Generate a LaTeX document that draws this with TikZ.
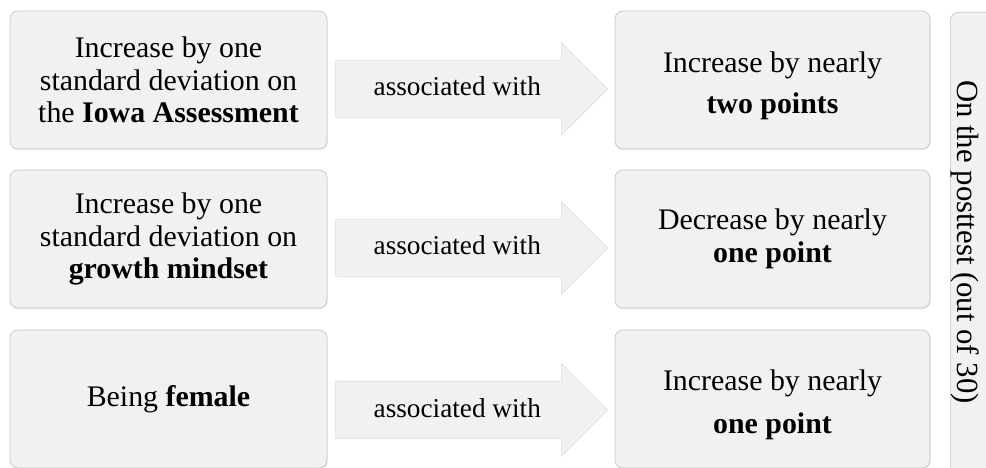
\documentclass[tikz,border=0pt]{standalone}
\usepackage{fontspec}
\setmainfont{Liberation Serif}
\usetikzlibrary{shapes.arrows, positioning, shadows}

\tikzset{
  factor/.style={draw=gray!45, fill=gray!11, rounded corners=0.16cm,
    minimum width=6.34cm, minimum height=2.76cm, align=center,
    font=\fontsize{17}{18.5}\selectfont,
    drop shadow={fill=gray!35, shadow xshift=0.4pt, shadow yshift=-0.6pt}},
  effect/.style={factor, minimum width=6.3cm},
  assoc/.style={single arrow, draw=gray!25, fill=gray!11,
    minimum height=5.44cm, minimum width=1.84cm,
    single arrow head extend=0.35cm,
    text height=0.4cm, text depth=0.12cm, inner ysep=0.31cm,
    font=\fontsize{15.5}{17}\selectfont},
  outcome/.style={factor, minimum width=1.4cm, minimum height=9.8cm, anchor=north west},
}

\begin{document}
\begin{tikzpicture}
\useasboundingbox (0,0) rectangle (19.72,-9.36);
\node (L1) [factor] at (3.37,-1.6) {Increase by one\\standard deviation on\\the \textbf{Iowa Assessment}};
\node (L2) [factor] at (3.37,-4.78) {Increase by one\\standard deviation on\\\textbf{growth mindset}};
\node (L3) [factor] at (3.37,-7.98) {Being \textbf{female}};
\node (R1) [effect] at (15.45,-1.6) {\rule{0pt}{0.66cm}Increase by nearly\\[5pt]\textbf{two points}};
\node (R2) [effect] at (15.45,-4.78) {Decrease by nearly\\\textbf{one point}};
\node (R3) [effect] at (15.45,-7.98) {\rule{0pt}{0.66cm}Increase by nearly\\[6pt]\textbf{one point}};
%Associations:
\node (A1) [assoc, right=0.16cm of L1, yshift=-0.18cm] {associated with};
\node (A2) [assoc, right=0.16cm of L2, yshift=-0.18cm] {associated with};
\node (A3) [assoc, right=0.16cm of L3, yshift=-0.22cm] {associated with};
%Outcome:
\node (P) [outcome] at (19.0,-0.24) {};
\node (PT) [rotate=-90, font=\fontsize{17.5}{19}\selectfont] at (19.3,-4.84) {On the posttest (out of 30)};
\end{tikzpicture}
\end{document}
